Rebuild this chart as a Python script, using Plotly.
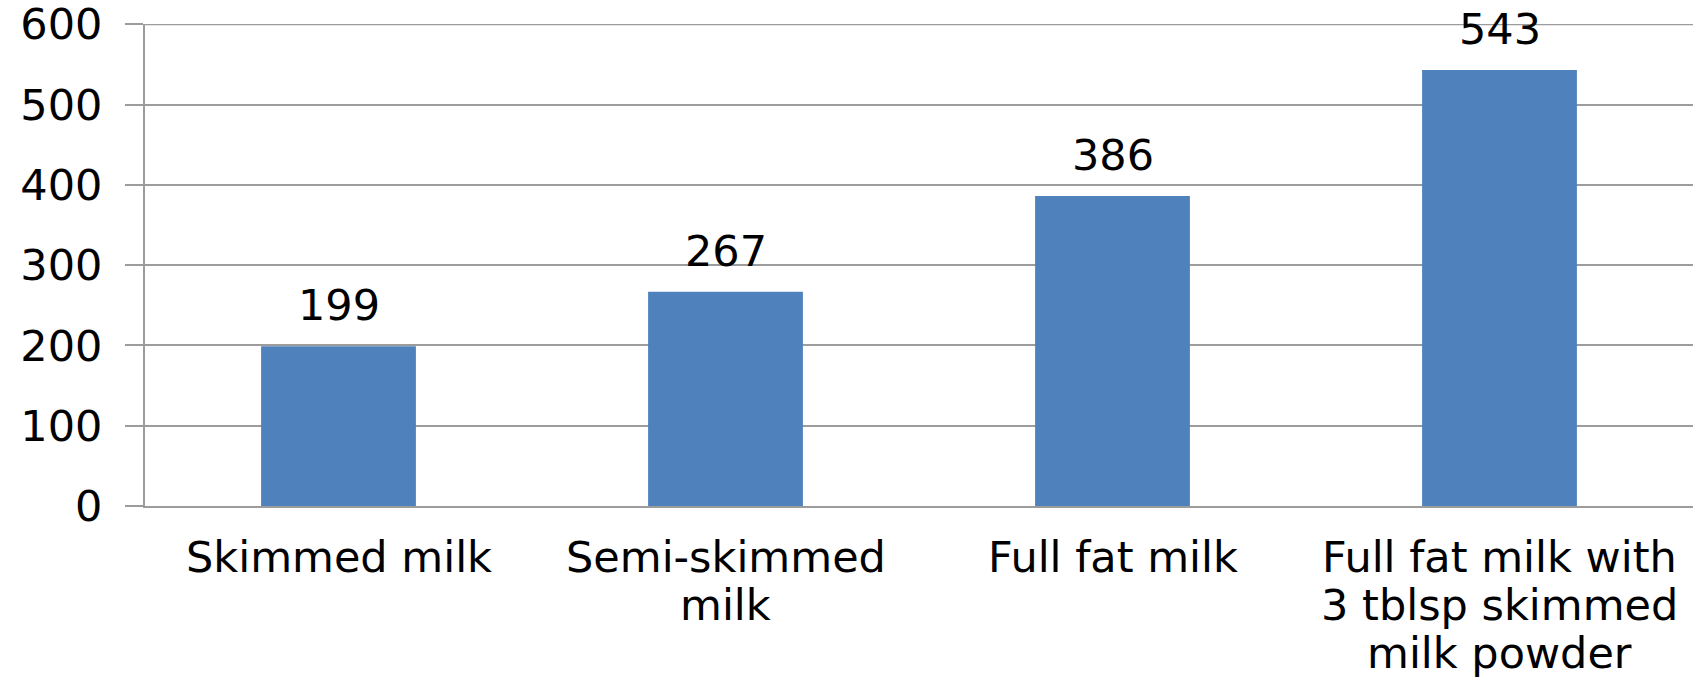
import plotly.graph_objects as go

# Milk types and measured values
categories = [
    "Skimmed milk",
    "Semi-skimmed<br>milk",
    "Full fat milk",
    "Full fat milk with<br>3 tblsp skimmed<br>milk powder",
]
values = [199, 267, 386, 543]
y_ticks = [0, 100, 200, 300, 400, 500, 600]

FONT = "DejaVu Sans"
FONT_SIZE = 43
BAR_COLOR = "#4F81BD"
LINE_COLOR = "#9C9C9C"

fig = go.Figure(
    go.Bar(
        x=categories,
        y=values,
        marker=dict(color=BAR_COLOR, line=dict(width=0)),
        width=0.4,
        hoverinfo="x+y",
    )
)

annotations = []

# Value labels above each bar
for cat, val in zip(categories, values):
    annotations.append(
        dict(
            x=cat, y=val, xref="x", yref="y",
            text=str(val), showarrow=False,
            yanchor="bottom", yshift=14,
            font=dict(family=FONT, size=FONT_SIZE, color="#000000"),
        )
    )

# Category labels under the axis, one annotation per text line
LINE_STEP = 48
for cat in categories:
    for i, line in enumerate(cat.split("<br>")):
        annotations.append(
            dict(
                x=cat, y=0, xref="x", yref="paper",
                text=line, showarrow=False,
                yanchor="middle", yshift=-51 - i * LINE_STEP,
                font=dict(family=FONT, size=FONT_SIZE, color="#000000"),
            )
        )

# Top gridline sits on the edge of the plot area, so draw it explicitly
top_grid = dict(
    type="line", xref="paper", yref="y",
    x0=0, x1=1, y0=y_ticks[-1], y1=y_ticks[-1],
    line=dict(color=LINE_COLOR, width=2),
    layer="below",
)

fig.update_layout(
    width=1698,
    height=679,
    margin=dict(l=145, r=5, t=24, b=173, autoexpand=False),
    paper_bgcolor="white",
    plot_bgcolor="white",
    showlegend=False,
    bargap=0.6,
    font=dict(family=FONT, size=FONT_SIZE, color="#000000"),
    annotations=annotations,
    shapes=[top_grid],
    xaxis=dict(
        type="category",
        showticklabels=False,
        ticks="",
        showline=True,
        linecolor=LINE_COLOR,
        linewidth=2,
        showgrid=False,
        zeroline=False,
        automargin=False,
    ),
    yaxis=dict(
        range=[0, 600.4],
        tickvals=y_ticks,
        ticktext=[str(t) for t in y_ticks],
        ticks="outside",
        ticklen=18,
        tickwidth=2,
        tickcolor=LINE_COLOR,
        ticklabelstandoff=14,
        ticklabeloverflow="allow",
        showline=True,
        linecolor=LINE_COLOR,
        linewidth=2,
        showgrid=True,
        gridcolor=LINE_COLOR,
        gridwidth=2,
        zeroline=False,
        automargin=False,
        tickfont=dict(family=FONT, size=FONT_SIZE, color="#000000"),
    ),
)

fig.write_html("out.html")
